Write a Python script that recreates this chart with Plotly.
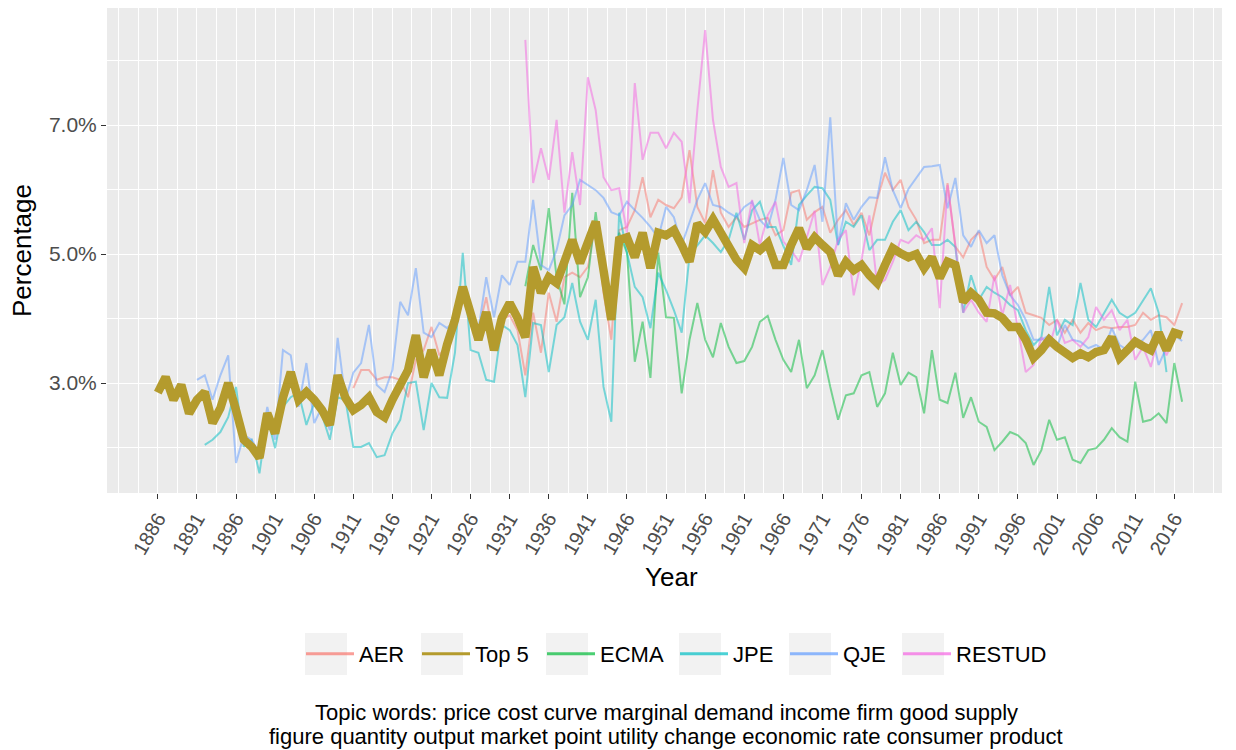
import plotly.graph_objects as go

# ---------------- data (percent of articles) ----------------
years_top5 = list(range(1886, 2018))
top5 = [
    2.85, 3.09, 2.74, 2.97, 2.53, 2.74, 2.86, 2.38, 2.61, 3.00,   # 1886-1895
    2.58, 2.12, 2.01, 1.84, 2.53, 2.22, 2.77, 3.17, 2.74, 2.86,   # 1896-1905
    2.74, 2.58, 2.35, 3.12, 2.77, 2.58, 2.66, 2.78, 2.55, 2.47,   # 1906-1915
    2.74, 3.00, 3.20, 3.74, 3.09, 3.51, 3.12, 3.60, 3.98, 4.49,   # 1916-1925
    4.13, 3.67, 4.10, 3.51, 4.01, 4.24, 4.01, 3.71, 4.80, 4.40,   # 1926-1935
    4.64, 4.55, 4.88, 5.22, 4.86, 5.22, 5.50, 4.75, 3.98, 5.22,   # 1936-1945
    5.26, 4.95, 5.33, 4.78, 5.33, 5.29, 5.37, 5.14, 4.88, 5.47,   # 1946-1955
    5.34, 5.54, 5.34, 5.14, 4.91, 4.78, 5.14, 5.06, 5.17, 4.83,   # 1956-1965
    4.83, 5.14, 5.40, 5.09, 5.26, 5.14, 5.03, 4.67, 4.88, 4.75,   # 1966-1975
    4.83, 4.67, 4.55, 4.83, 5.09, 5.01, 4.95, 5.00, 4.78, 4.95,   # 1976-1985
    4.63, 4.88, 4.83, 4.26, 4.40, 4.29, 4.09, 4.08, 4.01, 3.87,   # 1986-1995
    3.87, 3.67, 3.39, 3.51, 3.67, 3.56, 3.46, 3.39, 3.46, 3.40,   # 1996-2005
    3.48, 3.51, 3.71, 3.39, 3.51, 3.64, 3.57, 3.51, 3.78, 3.51,   # 2006-2015
    3.78, 3.74,                                                   # 2016-2017
]

years_aer = list(range(1911, 2018))
aer = [
    2.92, 3.20, 3.20, 3.05, 3.09, 3.09, 3.05, 2.78, 3.36, 3.51,   # 1911-1920
    3.87, 3.43, 3.59, 3.82, 4.29, 4.13, 3.82, 4.33, 3.67, 3.98,   # 1921-1930
    4.05, 3.82, 3.12, 4.09, 3.47, 4.40, 3.95, 4.64, 4.71, 4.64,   # 1931-1940
    4.80, 5.50, 4.40, 3.67, 5.37, 5.42, 5.68, 6.19, 5.57, 5.84,   # 1941-1950
    5.76, 5.71, 5.88, 6.61, 5.73, 5.48, 6.30, 5.64, 5.42, 5.57,   # 1951-1960
    5.42, 5.48, 5.53, 5.56, 5.29, 5.37, 5.95, 5.99, 5.53, 5.65,   # 1961-1970
    5.73, 5.33, 5.53, 5.68, 5.45, 5.64, 5.29, 5.84, 6.26, 5.99,   # 1971-1980
    6.15, 5.73, 5.53, 5.17, 5.22, 5.22, 6.10, 5.11, 4.95, 5.22,   # 1981-1990
    5.34, 4.80, 4.60, 4.80, 4.36, 4.49, 4.09, 4.05, 4.01, 3.90,   # 1991-2000
    3.98, 3.78, 3.98, 3.78, 3.93, 3.82, 3.87, 3.85, 3.87, 3.87,   # 2001-2010
    3.90, 4.09, 3.98, 4.05, 4.02, 3.90, 4.24,                     # 2011-2017
]

years_ecma = list(range(1933, 2018))
ecma = [
    4.50, 5.14, 4.75, 5.71, 4.64, 4.22, 5.95, 4.33,               # 1933-1940
    4.64, 5.65, 4.71, 3.98, 5.33, 5.02, 3.33, 3.95, 3.08, 5.02,   # 1941-1950
    4.02, 4.01, 2.84, 3.67, 4.24, 3.67, 3.40, 3.93, 3.56, 3.31,   # 1951-1960
    3.34, 3.56, 3.95, 4.04, 3.67, 3.36, 3.17, 3.67, 2.92, 3.12,   # 1961-1970
    3.51, 2.94, 2.43, 2.81, 2.84, 3.12, 3.17, 2.63, 2.84, 3.47,   # 1971-1980
    2.97, 3.16, 3.09, 2.53, 3.51, 2.74, 2.69, 3.16, 2.46, 2.78,   # 1981-1990
    2.40, 2.32, 1.96, 2.09, 2.24, 2.19, 2.07, 1.73, 1.96, 2.43,   # 1991-2000
    2.12, 2.16, 1.81, 1.76, 1.96, 1.99, 2.12, 2.30, 2.16, 2.09,   # 2001-2010
    3.02, 2.40, 2.43, 2.53, 2.38, 3.31, 2.71,                     # 2011-2017
]

years_jpe = list(range(1892, 2016))
jpe = [
    2.04, 2.12, 2.24, 2.47, 2.94, 2.01, 2.12, 1.60, 2.47,         # 1892-1900
    1.99, 2.63, 2.78, 2.85, 2.35, 2.69, 2.50, 2.12, 2.78, 2.74,   # 1901-1910
    2.01, 2.01, 2.07, 1.85, 1.88, 2.22, 2.43, 3.00, 3.02, 2.27,   # 1911-1920
    3.00, 2.78, 2.77, 3.47, 5.02, 3.51, 3.47, 3.05, 3.02, 3.90,   # 1921-1930
    3.82, 3.59, 2.78, 3.93, 3.90, 3.17, 3.90, 4.02, 4.55, 3.95,   # 1931-1940
    3.67, 4.29, 2.94, 2.40, 5.64, 5.02, 4.49, 4.33, 3.85, 4.71,   # 1941-1950
    4.44, 4.13, 3.78, 4.98, 5.14, 5.29, 5.17, 5.03, 5.22, 5.64,   # 1951-1960
    5.22, 5.68, 5.81, 5.42, 5.42, 5.11, 4.83, 5.76, 5.91, 6.04,   # 1961-1970
    6.02, 5.84, 5.14, 5.50, 5.42, 5.60, 5.06, 5.22, 5.22, 5.50,   # 1971-1980
    5.68, 5.37, 5.50, 5.34, 5.14, 5.14, 5.22, 5.11, 4.09, 4.67,   # 1981-1990
    4.29, 4.49, 4.40, 4.33, 4.21, 4.13, 3.82, 3.59, 3.71, 4.49,   # 1991-2000
    3.74, 3.98, 3.90, 4.55, 3.98, 3.87, 4.09, 4.29, 4.09, 4.01,   # 2001-2010
    4.09, 4.29, 4.47, 4.09, 3.17,                                 # 2011-2015
]

years_qje = list(range(1891, 2018))
qje = [
    3.05, 3.12, 2.74, 3.12, 3.43, 1.76, 2.19, 2.12, 1.90, 2.63,   # 1891-1900
    2.12, 3.51, 3.43, 2.63, 3.31, 2.38, 2.63, 2.27, 3.70, 2.74,   # 1901-1910
    3.16, 3.31, 3.90, 2.97, 2.86, 3.20, 4.26, 4.05, 4.78, 3.78,   # 1911-1920
    3.71, 3.93, 3.85, 3.98, 4.29, 4.21, 3.82, 4.64, 4.02, 4.67,   # 1921-1930
    4.52, 4.88, 4.88, 5.84, 4.83, 4.75, 5.06, 5.60, 5.76, 6.15,   # 1931-1940
    6.07, 5.99, 5.87, 5.65, 5.60, 5.81, 5.68, 5.56, 5.42, 5.25,   # 1941-1950
    5.73, 5.57, 5.14, 5.48, 5.84, 6.10, 5.76, 5.73, 5.64, 5.57,   # 1951-1960
    5.73, 5.81, 5.53, 5.40, 5.84, 6.49, 5.76, 5.68, 5.99, 6.38,   # 1961-1970
    5.50, 7.12, 5.14, 5.79, 5.53, 5.73, 5.88, 5.87, 6.50, 5.99,   # 1971-1980
    5.71, 6.01, 6.18, 6.35, 6.36, 6.38, 5.71, 6.18, 5.29, 5.11,   # 1981-1990
    5.37, 5.17, 5.29, 4.67, 4.36, 4.21, 3.98, 3.67, 3.67, 3.74,   # 1991-2000
    3.56, 3.90, 3.67, 3.64, 3.54, 3.59, 3.51, 3.85, 3.59, 3.51,   # 2001-2010
    3.59, 3.67, 3.82, 3.28, 3.55, 3.75, 3.65,                     # 2011-2017
]

years_restud = list(range(1933, 2017))
restud = [
    8.32, 6.10, 6.64, 6.15, 7.08, 5.64, 6.58, 5.76,               # 1933-1940
    7.74, 7.23, 6.19, 5.99, 6.02, 5.33, 7.65, 6.46, 6.88, 6.88,   # 1941-1950
    6.64, 6.88, 6.74, 5.79, 7.23, 8.47, 7.08, 6.35, 6.04, 6.10,   # 1951-1960
    5.17, 5.84, 5.14, 5.60, 5.81, 5.19, 5.06, 4.88, 5.26, 5.67,   # 1961-1970
    4.52, 4.80, 5.22, 5.37, 4.36, 4.91, 5.60, 4.52, 4.60, 4.88,   # 1971-1980
    5.22, 5.17, 5.29, 5.22, 5.40, 4.16, 6.07, 5.14, 4.09, 4.29,   # 1981-1990
    4.09, 3.95, 4.67, 4.05, 4.52, 3.85, 3.17, 3.28, 3.71, 3.56,   # 1991-2000
    3.98, 3.62, 3.67, 3.56, 3.71, 4.18, 3.98, 4.13, 3.82, 3.98,   # 2001-2010
    3.36, 3.56, 3.25, 3.74, 3.43, 3.70,                           # 2011-2016
]

x_tick_years = list(range(1886, 2017, 5))
y_tick_values = [3, 5, 7]
y_tick_labels = ["3.0%", "5.0%", "7.0%"]

legend_names = ["AER", "Top 5", "ECMA", "JPE", "QJE", "RESTUD"]

caption_line1 = "Topic words: price cost curve marginal demand income firm good supply"
caption_line2 = "figure quantity output market point utility change economic rate consumer product"

# ---------------- styling ----------------
FONT = "Liberation Sans, Arial, Helvetica, sans-serif"
colors = {
    "AER": "#F8766D", "Top 5": "#B49B2D", "ECMA": "#00BA38",
    "JPE": "#00BFC4", "QJE": "#619CFF", "RESTUD": "#F564E3",
}
# the page body has an 8px margin; figure is sized so the panel lands where the reference has it
FIG_W, FIG_H = 1228, 742
PANEL_L, PANEL_R, PANEL_T, PANEL_B = 107, 1222, 8, 493   # page pixels
PW, PH = PANEL_R - PANEL_L, PANEL_B - PANEL_T


def px(xpage):
    return (xpage - PANEL_L) / PW


def py(ypage):
    return (PANEL_B - ypage) / PH


# legend layout (page pixels): item starts and text-slot widths
legend_item_gap = 5
legend_symbol_slot = 48                  # plotly itemwidth
legend_text_gap = legend_symbol_slot + 2 * legend_item_gap
legend_slot_widths = [53, 62, 70, 47, 50, 92]
legend_left = 301

fig = go.Figure()

thin = [
    ("AER", years_aer, aer),
    ("ECMA", years_ecma, ecma),
    ("JPE", years_jpe, jpe),
    ("QJE", years_qje, qje),
    ("RESTUD", years_restud, restud),
]
for name, xs, ys in thin:
    fig.add_trace(go.Scatter(
        x=xs, y=ys, mode="lines", name=name, showlegend=False,
        line=dict(color=colors[name], width=2), opacity=0.5,
        hoverinfo="skip",
    ))

fig.add_trace(go.Scatter(
    x=years_top5, y=top5, mode="lines", name="Top 5", showlegend=False,
    line=dict(color=colors["Top 5"], width=8.5), opacity=1.0,
))

# legend entries (normal line width)
for name, w in zip(legend_names, legend_slot_widths):
    fig.add_trace(go.Scatter(
        x=[None], y=[None], mode="lines", name=name, showlegend=True,
        line=dict(color=colors[name], width=3),
        opacity=1.0 if name == "Top 5" else 0.7,
        legendwidth=w,
    ))

# grey legend key backgrounds (ggplot-style)
shapes = []
xstart = legend_left
for w in legend_slot_widths:
    shapes.append(dict(type="rect", xref="paper", yref="paper", layer="below",
                       x0=px(xstart + 4), x1=px(xstart + 46),
                       y0=py(675), y1=py(633),
                       fillcolor="#F2F2F2", line=dict(width=0)))
    xstart += legend_text_gap + w + legend_item_gap

fig.update_layout(
    width=FIG_W, height=FIG_H,
    margin=dict(l=PANEL_L - 8, r=FIG_W - (PANEL_R - 8), t=PANEL_T - 8,
                b=FIG_H - (PANEL_B - 8)),
    paper_bgcolor="white",
    plot_bgcolor="#EBEBEB",
    font=dict(family=FONT, color="#4D4D4D"),
    showlegend=True,
    legend=dict(
        orientation="h", x=px(legend_left), xanchor="left",
        y=py(654), yanchor="middle",
        font=dict(size=22, color="black", family=FONT),
        bgcolor="rgba(0,0,0,0)", itemwidth=legend_symbol_slot,
        tracegroupgap=0, borderwidth=0,
    ),
    xaxis=dict(
        range=[1879.5, 2022.1],
        tickmode="array", tickvals=x_tick_years,
        ticktext=[str(v) for v in x_tick_years],
        tickangle=-60, tickfont=dict(size=20, color="#4D4D4D"),
        ticks="outside", ticklen=5, tickcolor="#333333", tickwidth=1,
        showgrid=True, gridcolor="white", gridwidth=1.4,
        zeroline=False, showline=False,
        minor=dict(tickmode="linear", tick0=1886, dtick=2.5, showgrid=True,
                   gridcolor="white", gridwidth=0.7, ticks=""),
    ),
    yaxis=dict(
        range=[1.295, 8.814],
        tickmode="array", tickvals=y_tick_values, ticktext=y_tick_labels,
        tickfont=dict(size=21, color="#4D4D4D"),
        ticks="outside", ticklen=5, tickcolor="#333333", tickwidth=1,
        showgrid=True, gridcolor="white", gridwidth=1.4,
        zeroline=False, showline=False,
        minor=dict(tickmode="linear", tick0=1, dtick=1, showgrid=True,
                   gridcolor="white", gridwidth=0.7, ticks=""),
    ),
    shapes=shapes,
    annotations=[
        dict(text="Year", x=px(671), y=py(577), xref="paper", yref="paper",
             xanchor="center", yanchor="middle", showarrow=False,
             font=dict(size=26, color="black", family=FONT)),
        dict(text="Percentage", x=px(22), y=py(251), xref="paper", yref="paper",
             xanchor="center", yanchor="middle", showarrow=False, textangle=-90,
             font=dict(size=26, color="black", family=FONT)),
        dict(text=caption_line1, x=px(666), y=py(712), xref="paper", yref="paper",
             xanchor="center", yanchor="middle", showarrow=False,
             font=dict(size=22, color="black", family=FONT)),
        dict(text=caption_line2, x=px(666), y=py(736), xref="paper", yref="paper",
             xanchor="center", yanchor="middle", showarrow=False,
             font=dict(size=22, color="black", family=FONT)),
    ],
)

fig.write_html("out.html")
